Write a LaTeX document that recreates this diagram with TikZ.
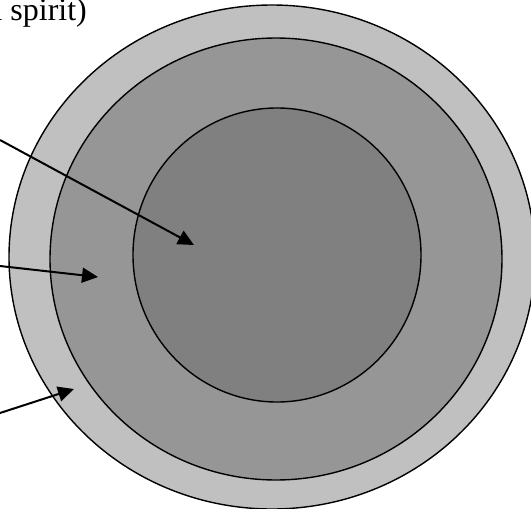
\documentclass[tikz,border=0pt]{standalone}
\usepackage{fontspec}
\setmainfont{Liberation Serif}
\usetikzlibrary{arrows.meta}
\definecolor{ringout}{RGB}{192,192,192}
\definecolor{ringmid}{RGB}{150,150,150}
\definecolor{ringin}{RGB}{128,128,128}
\tikzset{
  ring/.style={draw=black, line width=1.4pt},
  pointer/.style={draw=black, line width=2pt, -{Triangle[length=16pt,width=15pt]}},
  lbl/.style={inner sep=0pt, anchor=base west, font=\fontsize{32}{38}\selectfont}
}
\begin{document}
\begin{tikzpicture}[x=1pt,y=-1pt]
\useasboundingbox (0,0) rectangle (531,509);
\clip (0,0) rectangle (531,509);
\fill[white] (0,0) rectangle (531,509);
% rings
\draw[ring, fill=ringout] (272,257) ellipse [x radius=263, y radius=252];
\draw[ring, fill=ringmid] (276,259) ellipse [x radius=226, y radius=221];
\draw[ring, fill=ringin] (277,255) ellipse [x radius=144, y radius=147];
% text
\node[lbl] (t) at (-12,20) {a spirit)};
% arrow ends
\coordinate (s1) at (0,140);
\coordinate (e1) at (194,245);
\coordinate (s2) at (0,266);
\coordinate (e2) at (98,277);
\coordinate (s3) at (0,413);
\coordinate (e3) at (74,389);
\draw[pointer] (s1) -- (e1);
\draw[pointer] (s2) -- (e2);
\draw[pointer] (s3) -- (e3);
\end{tikzpicture}
\end{document}
